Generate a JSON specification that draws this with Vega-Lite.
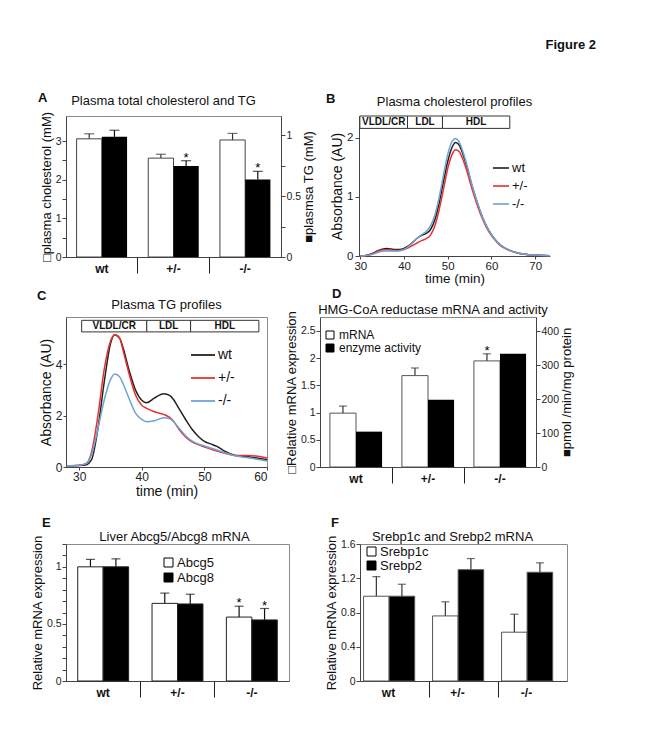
{
  "$schema": "https://vega.github.io/schema/vega-lite/v6.json",
  "background": "white",
  "padding": {"left": 30, "top": 38, "right": 5, "bottom": 5},
  "config": {
    "font": "Liberation Sans",
    "view": {"stroke": "#8a8a8a"},
    "axis": {"labelFont": "Liberation Sans", "labelFontSize": 11, "labelColor": "#222", "titleFont": "Liberation Sans", "titleFontSize": 13, "titleFontWeight": "normal", "titleColor": "#111", "domainColor": "#444", "tickColor": "#444", "tickSize": 4, "labelPadding": 1, "titlePadding": 2, "grid": false},
    "axisQuantitative": {"labelFontSize": 10.5},
    "title": {"font": "Liberation Sans", "fontSize": 13, "fontWeight": "normal", "color": "#111"},
    "legend": {"labelFont": "Liberation Sans", "labelColor": "#111"}
  },
  "title": {"text": "Figure 2", "anchor": "end", "fontWeight": "bold", "fontSize": 13, "offset": 40, "dx": 22},
  "spacing": 18,
  "align": "none",
  "resolve": {"scale": {"color": "independent", "fill": "independent", "xOffset": "independent", "x": "independent", "y": "independent"}, "legend": {"color": "independent", "fill": "independent"}},
  "vconcat": [
    {
      "spacing": 2,
      "align": "none",
      "resolve": {"scale": {"color": "independent", "fill": "independent", "xOffset": "independent", "x": "independent", "y": "independent"}, "legend": {"color": "independent", "fill": "independent"}},
      "vconcat": [
        {
          "spacing": 9,
          "align": "none",
          "resolve": {"scale": {"color": "independent", "fill": "independent", "xOffset": "independent", "x": "independent", "y": "independent"}, "legend": {"color": "independent", "fill": "independent"}},
          "hconcat": [
            {
              "title": {"text": "A", "anchor": "start", "frame": "group", "fontWeight": "bold", "fontSize": 13, "offset": -10, "dx": -28},
              "resolve": {"scale": {"xOffset": "independent", "x": "independent", "y": "independent"}},
              "hconcat": [
                {
                  "width": 215, "height": 141,
                  "title": {"text": "Plasma total cholesterol and TG", "offset": 3, "dx": -10},
                  "data": {"values": [
                    {"g": "wt", "s": "chol", "v": 3.06, "e": 3.19, "star": ""},
                    {"g": "+/-", "s": "chol", "v": 2.56, "e": 2.66, "star": ""},
                    {"g": "-/-", "s": "chol", "v": 3.03, "e": 3.2, "star": ""},
                    {"g": "wt", "s": "tg", "v": 0.986, "e": 1.04, "star": ""},
                    {"g": "+/-", "s": "tg", "v": 0.747, "e": 0.79, "star": "*"},
                    {"g": "-/-", "s": "tg", "v": 0.635, "e": 0.703, "star": "*"}
                  ]},
                  "encoding": {
                    "x": {"field": "g", "type": "nominal", "sort": ["wt", "+/-", "-/-"], "scale": {"paddingInner": 0, "paddingOuter": 0},
                      "axis": {"title": null, "labelAngle": 0, "labelFontWeight": "bold", "labelFontSize": 12, "labelColor": "#111", "bandPosition": 1, "tickSize": 16, "labelPadding": -10, "tickColor": "#222", "tickOpacity": {"condition": {"test": "datum.value === '-/-'", "value": 0}, "value": 1}}},
                    "xOffset": {"field": "s", "type": "nominal", "sort": ["chol", "tg"], "scale": {"paddingInner": 0, "paddingOuter": 0.42}}
                  },
                  "layer": [
                    {
                      "transform": [{"filter": "datum.s === 'chol'"}],
                      "layer": [
                        {"mark": {"type": "rule", "color": "#333", "strokeWidth": 1.2},
                          "encoding": {"y": {"field": "v", "type": "quantitative", "scale": {"domain": [0, 3.651], "nice": false}, "axis": {"title": "□plasma cholesterol (mM)", "format": "~g", "values": [0, 0.5, 1, 1.5, 2, 2.5, 3], "labelExpr": "datum.value % 1 === 0 ? datum.label : ''"}}, "y2": {"field": "e"}}},
                        {"mark": {"type": "bar", "fill": "white", "stroke": "#444", "strokeWidth": 1},
                          "encoding": {"y": {"field": "v", "type": "quantitative", "scale": {"domain": [0, 3.651], "nice": false}, "axis": {"title": "□plasma cholesterol (mM)", "format": "~g", "values": [0, 0.5, 1, 1.5, 2, 2.5, 3], "labelExpr": "datum.value % 1 === 0 ? datum.label : ''"}}}},
                        {"mark": {"type": "tick", "color": "#333", "size": 10, "thickness": 1.2},
                          "encoding": {"y": {"field": "e", "type": "quantitative", "scale": {"domain": [0, 3.651], "nice": false}, "axis": {"title": "□plasma cholesterol (mM)", "format": "~g", "values": [0, 0.5, 1, 1.5, 2, 2.5, 3], "labelExpr": "datum.value % 1 === 0 ? datum.label : ''"}}}}
                      ]
                    },
                    {
                      "transform": [{"filter": "datum.s === 'tg'"}],
                      "layer": [
                        {"mark": {"type": "rule", "color": "#111", "strokeWidth": 1.2},
                          "encoding": {"y": {"field": "v", "type": "quantitative", "scale": {"domain": [0, 1.157], "nice": false}, "axis": {"orient": "right", "title": "■plasmsa TG (mM)", "titleAngle": 270, "titleBaseline": "top", "format": "~g", "values": [0, 0.25, 0.5, 0.75, 1], "labelExpr": "datum.value === 0.25 || datum.value === 0.75 ? '' : datum.label"}}, "y2": {"field": "e"}}},
                        {"mark": {"type": "bar", "fill": "black"},
                          "encoding": {"y": {"field": "v", "type": "quantitative", "scale": {"domain": [0, 1.157], "nice": false}, "axis": {"orient": "right", "title": "■plasmsa TG (mM)", "titleAngle": 270, "titleBaseline": "top", "format": "~g", "values": [0, 0.25, 0.5, 0.75, 1], "labelExpr": "datum.value === 0.25 || datum.value === 0.75 ? '' : datum.label"}}}},
                        {"mark": {"type": "tick", "color": "#111", "size": 10, "thickness": 1.2},
                          "encoding": {"y": {"field": "e", "type": "quantitative", "scale": {"domain": [0, 1.157], "nice": false}, "axis": {"orient": "right", "title": "■plasmsa TG (mM)", "titleAngle": 270, "titleBaseline": "top", "format": "~g", "values": [0, 0.25, 0.5, 0.75, 1], "labelExpr": "datum.value === 0.25 || datum.value === 0.75 ? '' : datum.label"}}}},
                        {"mark": {"type": "text", "fontSize": 13, "baseline": "alphabetic", "dy": 1},
                          "encoding": {"y": {"field": "e", "type": "quantitative", "scale": {"domain": [0, 1.157], "nice": false}, "axis": {"orient": "right", "title": "■plasmsa TG (mM)", "titleAngle": 270, "titleBaseline": "top", "format": "~g", "values": [0, 0.25, 0.5, 0.75, 1], "labelExpr": "datum.value === 0.25 || datum.value === 0.75 ? '' : datum.label"}}, "text": {"field": "star"}}}
                      ]
                    }
                  ],
                  "resolve": {"scale": {"y": "independent"}}
                }
              ]
            },
            {
              "title": {"text": "B", "anchor": "start", "frame": "group", "fontWeight": "bold", "fontSize": 13, "offset": -10, "dx": -33},
              "resolve": {"scale": {"color": "independent", "x": "independent", "y": "independent"}, "legend": {"color": "independent"}},
              "hconcat": [
                {
                  "width": 191, "height": 140,
                  "view": {"stroke": null},
                  "title": {"text": "Plasma cholesterol profiles", "offset": 7},
                  "layer": [
                    {
                      "data": {"values": [
                        {"t":30,"a":0,"k":"wt"},{"t":31,"a":0.005,"k":"wt"},{"t":32,"a":0.02,"k":"wt"},{"t":33,"a":0.05,"k":"wt"},{"t":34,"a":0.09,"k":"wt"},{"t":35,"a":0.115,"k":"wt"},{"t":36,"a":0.125,"k":"wt"},{"t":37,"a":0.12,"k":"wt"},{"t":38,"a":0.11,"k":"wt"},{"t":39,"a":0.11,"k":"wt"},{"t":40,"a":0.13,"k":"wt"},{"t":41,"a":0.17,"k":"wt"},{"t":42,"a":0.23,"k":"wt"},{"t":43,"a":0.3,"k":"wt"},{"t":44,"a":0.35,"k":"wt"},{"t":45,"a":0.38,"k":"wt"},{"t":46,"a":0.44,"k":"wt"},{"t":47,"a":0.6,"k":"wt"},{"t":48,"a":0.88,"k":"wt"},{"t":49,"a":1.25,"k":"wt"},{"t":50,"a":1.6,"k":"wt"},{"t":51,"a":1.84,"k":"wt"},{"t":51.8,"a":1.92,"k":"wt"},{"t":52.6,"a":1.88,"k":"wt"},{"t":53.5,"a":1.72,"k":"wt"},{"t":54.5,"a":1.48,"k":"wt"},{"t":55.5,"a":1.2,"k":"wt"},{"t":56.5,"a":0.96,"k":"wt"},{"t":57.5,"a":0.74,"k":"wt"},{"t":58.5,"a":0.56,"k":"wt"},{"t":59.5,"a":0.42,"k":"wt"},{"t":60.5,"a":0.31,"k":"wt"},{"t":62,"a":0.19,"k":"wt"},{"t":64,"a":0.1,"k":"wt"},{"t":66,"a":0.05,"k":"wt"},{"t":69,"a":0.02,"k":"wt"},{"t":73.4,"a":0.005,"k":"wt"},
                        {"t":30,"a":0,"k":"+/-"},{"t":31,"a":0.005,"k":"+/-"},{"t":32,"a":0.02,"k":"+/-"},{"t":33,"a":0.045,"k":"+/-"},{"t":34,"a":0.08,"k":"+/-"},{"t":35,"a":0.1,"k":"+/-"},{"t":36,"a":0.105,"k":"+/-"},{"t":37,"a":0.1,"k":"+/-"},{"t":38,"a":0.095,"k":"+/-"},{"t":39,"a":0.095,"k":"+/-"},{"t":40,"a":0.11,"k":"+/-"},{"t":41,"a":0.14,"k":"+/-"},{"t":42,"a":0.18,"k":"+/-"},{"t":43,"a":0.22,"k":"+/-"},{"t":44,"a":0.26,"k":"+/-"},{"t":45,"a":0.29,"k":"+/-"},{"t":46,"a":0.35,"k":"+/-"},{"t":47,"a":0.5,"k":"+/-"},{"t":48,"a":0.77,"k":"+/-"},{"t":49,"a":1.12,"k":"+/-"},{"t":50,"a":1.48,"k":"+/-"},{"t":51,"a":1.72,"k":"+/-"},{"t":51.8,"a":1.8,"k":"+/-"},{"t":52.6,"a":1.77,"k":"+/-"},{"t":53.5,"a":1.63,"k":"+/-"},{"t":54.5,"a":1.41,"k":"+/-"},{"t":55.5,"a":1.15,"k":"+/-"},{"t":56.5,"a":0.92,"k":"+/-"},{"t":57.5,"a":0.71,"k":"+/-"},{"t":58.5,"a":0.54,"k":"+/-"},{"t":59.5,"a":0.4,"k":"+/-"},{"t":60.5,"a":0.3,"k":"+/-"},{"t":62,"a":0.18,"k":"+/-"},{"t":64,"a":0.1,"k":"+/-"},{"t":66,"a":0.05,"k":"+/-"},{"t":69,"a":0.02,"k":"+/-"},{"t":73.4,"a":0.005,"k":"+/-"},
                        {"t":30,"a":0,"k":"-/-"},{"t":31,"a":0.005,"k":"-/-"},{"t":32,"a":0.015,"k":"-/-"},{"t":33,"a":0.035,"k":"-/-"},{"t":34,"a":0.06,"k":"-/-"},{"t":35,"a":0.08,"k":"-/-"},{"t":36,"a":0.085,"k":"-/-"},{"t":37,"a":0.085,"k":"-/-"},{"t":38,"a":0.085,"k":"-/-"},{"t":39,"a":0.09,"k":"-/-"},{"t":40,"a":0.11,"k":"-/-"},{"t":41,"a":0.16,"k":"-/-"},{"t":42,"a":0.23,"k":"-/-"},{"t":43,"a":0.3,"k":"-/-"},{"t":44,"a":0.36,"k":"-/-"},{"t":45,"a":0.41,"k":"-/-"},{"t":46,"a":0.5,"k":"-/-"},{"t":47,"a":0.68,"k":"-/-"},{"t":48,"a":0.98,"k":"-/-"},{"t":49,"a":1.36,"k":"-/-"},{"t":50,"a":1.72,"k":"-/-"},{"t":51,"a":1.94,"k":"-/-"},{"t":51.8,"a":1.99,"k":"-/-"},{"t":52.6,"a":1.93,"k":"-/-"},{"t":53.5,"a":1.76,"k":"-/-"},{"t":54.5,"a":1.51,"k":"-/-"},{"t":55.5,"a":1.22,"k":"-/-"},{"t":56.5,"a":0.97,"k":"-/-"},{"t":57.5,"a":0.75,"k":"-/-"},{"t":58.5,"a":0.56,"k":"-/-"},{"t":59.5,"a":0.42,"k":"-/-"},{"t":60.5,"a":0.31,"k":"-/-"},{"t":62,"a":0.19,"k":"-/-"},{"t":64,"a":0.1,"k":"-/-"},{"t":66,"a":0.05,"k":"-/-"},{"t":69,"a":0.02,"k":"-/-"},{"t":73.4,"a":0.005,"k":"-/-"}
                      ]},
                      "mark": {"type": "line", "interpolate": "monotone", "strokeWidth": 1.5},
                      "encoding": {
                        "x": {"field": "t", "type": "quantitative", "scale": {"domain": [29.7, 73.4], "nice": false, "zero": false}, "axis": {"title": "time (min)", "titleFontSize": 13.5, "labelFontSize": 11.5, "values": [30, 40, 50, 60, 70], "tickSize": 3, "labelPadding": 1, "titlePadding": 0}},
                        "y": {"field": "a", "type": "quantitative", "scale": {"domain": [0, 2.37], "nice": false}, "axis": {"title": "Absorbance (AU)", "titleFontSize": 14, "labelFontSize": 11.5, "labelPadding": 2, "titlePadding": 2, "format": "~g", "values": [0, 0.5, 1, 1.5, 2], "labelExpr": "datum.value % 1 === 0 ? datum.label : ''"}},
                        "color": {"field": "k", "type": "nominal", "sort": ["wt", "+/-", "-/-"], "scale": {"domain": ["wt", "+/-", "-/-"], "range": ["#222222", "#e8312f", "#6ea3d6"]},
                          "legend": {"title": null, "orient": "none", "legendX": 133, "legendY": 43, "symbolType": "stroke", "symbolSize": 256, "symbolStrokeWidth": 1.6, "labelFontSize": 13, "rowPadding": 2, "labelOffset": 2}}
                      }
                    },
                    {
                      "data": {"values": [{"r": "VLDL/CR", "t0": 29.9, "t1": 40.8}, {"r": "LDL", "t0": 40.8, "t1": 48.8}, {"r": "HDL", "t0": 48.8, "t1": 64.2}]},
                      "mark": {"type": "rect", "fill": "white", "stroke": "#333", "strokeWidth": 1},
                      "encoding": {"x": {"field": "t0", "type": "quantitative"}, "x2": {"field": "t1"}, "y": {"datum": 2.16}, "y2": {"datum": 2.37}}
                    },
                    {
                      "data": {"values": [{"r": "VLDL/CR", "t0": 29.9, "t1": 40.8}, {"r": "LDL", "t0": 40.8, "t1": 48.8}, {"r": "HDL", "t0": 48.8, "t1": 64.2}]},
                      "transform": [{"calculate": "(datum.t0 + datum.t1) / 2", "as": "tm"}],
                      "mark": {"type": "text", "fontWeight": "bold", "fontSize": 10, "color": "#111"},
                      "encoding": {"x": {"field": "tm", "type": "quantitative"}, "y": {"datum": 2.265}, "text": {"field": "r"}}
                    }
                  ]
                }
              ]
            }
          ]
        },
        {
          "spacing": 13,
          "align": "none",
          "resolve": {"scale": {"color": "independent", "fill": "independent", "xOffset": "independent", "x": "independent", "y": "independent"}, "legend": {"color": "independent", "fill": "independent"}},
          "hconcat": [
            {
              "title": {"text": "C", "anchor": "start", "frame": "group", "fontWeight": "bold", "fontSize": 13, "offset": -4, "dx": -29},
              "resolve": {"scale": {"color": "independent", "x": "independent", "y": "independent"}, "legend": {"color": "independent"}},
              "hconcat": [
                {
                  "width": 201, "height": 150,
                  "title": {"text": "Plasma TG profiles", "offset": 5},
                  "layer": [
                    {
                      "data": {"values": [
                        {"t":28,"a":0.05,"k":"wt"},{"t":30,"a":0.06,"k":"wt"},{"t":31,"a":0.08,"k":"wt"},{"t":32,"a":0.3,"k":"wt"},{"t":33,"a":1.5,"k":"wt"},{"t":34,"a":3.3,"k":"wt"},{"t":35,"a":4.8,"k":"wt"},{"t":35.7,"a":5.15,"k":"wt"},{"t":36.5,"a":5.0,"k":"wt"},{"t":37,"a":4.65,"k":"wt"},{"t":38,"a":3.75,"k":"wt"},{"t":39,"a":3.0,"k":"wt"},{"t":40,"a":2.6,"k":"wt"},{"t":40.8,"a":2.5,"k":"wt"},{"t":42,"a":2.68,"k":"wt"},{"t":43.5,"a":2.85,"k":"wt"},{"t":44.5,"a":2.78,"k":"wt"},{"t":45,"a":2.65,"k":"wt"},{"t":46,"a":2.25,"k":"wt"},{"t":47,"a":1.85,"k":"wt"},{"t":48,"a":1.48,"k":"wt"},{"t":49,"a":1.2,"k":"wt"},{"t":50,"a":1.0,"k":"wt"},{"t":51,"a":0.9,"k":"wt"},{"t":52,"a":0.8,"k":"wt"},{"t":53,"a":0.65,"k":"wt"},{"t":55,"a":0.45,"k":"wt"},{"t":57,"a":0.4,"k":"wt"},{"t":60,"a":0.28,"k":"wt"},
                        {"t":28,"a":0.05,"k":"+/-"},{"t":30,"a":0.07,"k":"+/-"},{"t":31,"a":0.12,"k":"+/-"},{"t":32,"a":0.6,"k":"+/-"},{"t":33,"a":2.0,"k":"+/-"},{"t":34,"a":3.8,"k":"+/-"},{"t":35,"a":4.9,"k":"+/-"},{"t":35.7,"a":5.15,"k":"+/-"},{"t":36.5,"a":5.0,"k":"+/-"},{"t":37,"a":4.55,"k":"+/-"},{"t":38,"a":3.6,"k":"+/-"},{"t":39,"a":2.8,"k":"+/-"},{"t":40,"a":2.4,"k":"+/-"},{"t":40.8,"a":2.28,"k":"+/-"},{"t":42,"a":2.15,"k":"+/-"},{"t":43.5,"a":2.05,"k":"+/-"},{"t":44.5,"a":1.92,"k":"+/-"},{"t":45,"a":1.8,"k":"+/-"},{"t":46,"a":1.45,"k":"+/-"},{"t":47,"a":1.17,"k":"+/-"},{"t":48,"a":0.98,"k":"+/-"},{"t":49,"a":0.87,"k":"+/-"},{"t":50,"a":0.78,"k":"+/-"},{"t":51,"a":0.7,"k":"+/-"},{"t":52,"a":0.62,"k":"+/-"},{"t":53,"a":0.55,"k":"+/-"},{"t":55,"a":0.45,"k":"+/-"},{"t":57,"a":0.45,"k":"+/-"},{"t":60,"a":0.35,"k":"+/-"},
                        {"t":28,"a":0.05,"k":"-/-"},{"t":30,"a":0.07,"k":"-/-"},{"t":31,"a":0.12,"k":"-/-"},{"t":32,"a":0.5,"k":"-/-"},{"t":33,"a":1.5,"k":"-/-"},{"t":34,"a":2.6,"k":"-/-"},{"t":35,"a":3.4,"k":"-/-"},{"t":35.7,"a":3.62,"k":"-/-"},{"t":36.5,"a":3.5,"k":"-/-"},{"t":37,"a":3.25,"k":"-/-"},{"t":38,"a":2.65,"k":"-/-"},{"t":39,"a":2.1,"k":"-/-"},{"t":40,"a":1.85,"k":"-/-"},{"t":40.8,"a":1.76,"k":"-/-"},{"t":42,"a":1.8,"k":"-/-"},{"t":43.5,"a":1.92,"k":"-/-"},{"t":44.5,"a":1.88,"k":"-/-"},{"t":45,"a":1.78,"k":"-/-"},{"t":46,"a":1.5,"k":"-/-"},{"t":47,"a":1.22,"k":"-/-"},{"t":48,"a":1.02,"k":"-/-"},{"t":49,"a":0.9,"k":"-/-"},{"t":50,"a":0.82,"k":"-/-"},{"t":51,"a":0.74,"k":"-/-"},{"t":52,"a":0.66,"k":"-/-"},{"t":53,"a":0.58,"k":"-/-"},{"t":55,"a":0.43,"k":"-/-"},{"t":57,"a":0.36,"k":"-/-"},{"t":60,"a":0.23,"k":"-/-"}
                      ]},
                      "mark": {"type": "line", "interpolate": "monotone", "strokeWidth": 1.5},
                      "encoding": {
                        "x": {"field": "t", "type": "quantitative", "scale": {"domain": [27.9, 60], "nice": false, "zero": false}, "axis": {"title": "time (min)", "titleFontSize": 14, "labelFontSize": 12, "values": [30, 40, 50, 60], "tickSize": 3, "labelPadding": 1, "titlePadding": 2}},
                        "y": {"field": "a", "type": "quantitative", "scale": {"domain": [0, 5.84], "nice": false}, "axis": {"title": "Absorbance (AU)", "titleFontSize": 14, "labelFontSize": 12, "tickSize": 3, "values": [0, 1, 2, 3, 4, 5]}},
                        "color": {"field": "k", "type": "nominal", "sort": ["wt", "+/-", "-/-"], "scale": {"domain": ["wt", "+/-", "-/-"], "range": ["#222222", "#e8312f", "#6ea3d6"]},
                          "legend": {"title": null, "orient": "none", "legendX": 124, "legendY": 25, "symbolType": "stroke", "symbolSize": 576, "symbolStrokeWidth": 1.8, "labelFontSize": 14, "rowPadding": 3, "labelOffset": 2}}
                      }
                    },
                    {
                      "data": {"values": [{"r": "VLDL/CR", "t0": 30.4, "t1": 40.8}, {"r": "LDL", "t0": 40.8, "t1": 47.8}, {"r": "HDL", "t0": 47.8, "t1": 58.7}]},
                      "mark": {"type": "rect", "fill": "white", "stroke": "#333", "strokeWidth": 1},
                      "encoding": {"x": {"field": "t0", "type": "quantitative"}, "x2": {"field": "t1"}, "y": {"datum": 5.26}, "y2": {"datum": 5.71}}
                    },
                    {
                      "data": {"values": [{"r": "VLDL/CR", "t0": 30.4, "t1": 40.8}, {"r": "LDL", "t0": 40.8, "t1": 47.8}, {"r": "HDL", "t0": 47.8, "t1": 58.7}]},
                      "transform": [{"calculate": "(datum.t0 + datum.t1) / 2", "as": "tm"}],
                      "mark": {"type": "text", "fontWeight": "bold", "fontSize": 10, "color": "#111"},
                      "encoding": {"x": {"field": "tm", "type": "quantitative"}, "y": {"datum": 5.485}, "text": {"field": "r"}}
                    }
                  ]
                }
              ]
            },
            {
              "title": {"text": "D", "anchor": "start", "frame": "group", "fontWeight": "bold", "fontSize": 13, "offset": 3, "dx": 12},
              "resolve": {"scale": {"fill": "independent", "xOffset": "independent", "x": "independent", "y": "independent"}, "legend": {"fill": "independent"}},
              "hconcat": [
                {
                  "width": 216, "height": 150,
                  "title": {"text": "HMG-CoA reductase mRNA and activity", "offset": -7, "dx": 5},
                  "data": {"values": [
                    {"g": "wt", "s": "mRNA", "v": 0.99, "e": 1.12, "star": ""},
                    {"g": "+/-", "s": "mRNA", "v": 1.68, "e": 1.82, "star": ""},
                    {"g": "-/-", "s": "mRNA", "v": 1.95, "e": 2.08, "star": "*"},
                    {"g": "wt", "s": "enzyme activity", "v": 104},
                    {"g": "+/-", "s": "enzyme activity", "v": 198},
                    {"g": "-/-", "s": "enzyme activity", "v": 333}
                  ]},
                  "encoding": {
                    "x": {"field": "g", "type": "nominal", "sort": ["wt", "+/-", "-/-"], "scale": {"paddingInner": 0, "paddingOuter": 0},
                      "axis": {"title": null, "labelAngle": 0, "labelFontWeight": "bold", "labelFontSize": 12, "labelColor": "#111", "bandPosition": 1, "tickSize": 16, "labelPadding": -10, "tickColor": "#222", "tickOpacity": {"condition": {"test": "datum.value === '-/-'", "value": 0}, "value": 1}}},
                    "xOffset": {"field": "s", "type": "nominal", "sort": ["mRNA", "enzyme activity"], "scale": {"paddingInner": 0, "paddingOuter": 0.38}}
                  },
                  "layer": [
                    {
                      "transform": [{"filter": "datum.s === 'mRNA'"}],
                      "layer": [
                        {"mark": {"type": "rule", "color": "#333", "strokeWidth": 1.2},
                          "encoding": {"y": {"field": "v", "type": "quantitative", "scale": {"domain": [0, 2.757], "nice": false}, "axis": {"title": "□Relative mRNA expression", "format": "~g", "values": [0, 0.5, 1, 1.5, 2, 2.5]}}, "y2": {"field": "e"}}},
                        {"mark": {"type": "bar", "stroke": "#555", "strokeWidth": 1},
                          "encoding": {"y": {"field": "v", "type": "quantitative", "scale": {"domain": [0, 2.757], "nice": false}, "axis": {"title": "□Relative mRNA expression", "format": "~g", "values": [0, 0.5, 1, 1.5, 2, 2.5]}},
                            "fill": {"field": "s", "type": "nominal", "scale": {"domain": ["mRNA", "enzyme activity"], "range": ["white", "black"]},
                              "legend": {"title": null, "orient": "none", "legendX": 4, "legendY": 12, "symbolType": "square", "symbolSize": 64, "symbolStrokeColor": "#000", "symbolStrokeWidth": 1, "labelFontSize": 12, "rowPadding": 1, "labelOffset": 3}}}},
                        {"mark": {"type": "tick", "color": "#333", "size": 8, "thickness": 1.2},
                          "encoding": {"y": {"field": "e", "type": "quantitative", "scale": {"domain": [0, 2.757], "nice": false}, "axis": {"title": "□Relative mRNA expression", "format": "~g", "values": [0, 0.5, 1, 1.5, 2, 2.5]}}}},
                        {"mark": {"type": "text", "fontSize": 13, "baseline": "alphabetic", "dy": 1},
                          "encoding": {"y": {"field": "e", "type": "quantitative", "scale": {"domain": [0, 2.757], "nice": false}, "axis": {"title": "□Relative mRNA expression", "format": "~g", "values": [0, 0.5, 1, 1.5, 2, 2.5]}}, "text": {"field": "star"}}}
                      ]
                    },
                    {
                      "transform": [{"filter": "datum.s === 'enzyme activity'"}],
                      "mark": {"type": "bar"},
                      "encoding": {
                        "y": {"field": "v", "type": "quantitative", "scale": {"domain": [0, 441.2], "nice": false}, "axis": {"orient": "right", "title": "■pmol /min/mg protein", "titleAngle": 270, "titleBaseline": "top", "format": "d", "values": [0, 100, 200, 300, 400]}},
                        "fill": {"field": "s", "type": "nominal", "scale": {"domain": ["mRNA", "enzyme activity"], "range": ["white", "black"]}}
                      }
                    }
                  ],
                  "resolve": {"scale": {"y": "independent"}}
                }
              ]
            }
          ]
        }
      ]
    },
    {
      "spacing": 34,
      "align": "none",
      "resolve": {"scale": {"color": "independent", "fill": "independent", "xOffset": "independent", "x": "independent", "y": "independent"}, "legend": {"color": "independent", "fill": "independent"}},
      "hconcat": [
        {
          "title": {"text": "E", "anchor": "start", "frame": "group", "fontWeight": "bold", "fontSize": 13, "offset": 0, "dx": -24},
          "resolve": {"scale": {"fill": "independent", "xOffset": "independent", "x": "independent", "y": "independent"}, "legend": {"fill": "independent"}},
          "hconcat": [
            {
              "width": 223, "height": 137,
              "title": {"text": "Liver Abcg5/Abcg8 mRNA", "offset": -9, "dx": -3},
              "data": {"values": [
                {"g": "wt", "s": "Abcg5", "v": 1.0, "e": 1.065, "star": ""},
                {"g": "+/-", "s": "Abcg5", "v": 0.68, "e": 0.77, "star": ""},
                {"g": "-/-", "s": "Abcg5", "v": 0.56, "e": 0.655, "star": "*"},
                {"g": "wt", "s": "Abcg8", "v": 1.0, "e": 1.07, "star": ""},
                {"g": "+/-", "s": "Abcg8", "v": 0.675, "e": 0.76, "star": ""},
                {"g": "-/-", "s": "Abcg8", "v": 0.535, "e": 0.635, "star": "*"}
              ]},
              "encoding": {
                "x": {"field": "g", "type": "nominal", "sort": ["wt", "+/-", "-/-"], "scale": {"paddingInner": 0, "paddingOuter": 0},
                  "axis": {"title": null, "labelAngle": 0, "labelFontWeight": "bold", "labelFontSize": 12, "labelColor": "#111", "bandPosition": 1, "tickSize": 16, "labelPadding": -10, "tickColor": "#222", "tickOpacity": {"condition": {"test": "datum.value === '-/-'", "value": 0}, "value": 1}}},
                "xOffset": {"field": "s", "type": "nominal", "sort": ["Abcg5", "Abcg8"], "scale": {"paddingInner": 0, "paddingOuter": 0.46}},
                "y": {"field": "v", "type": "quantitative", "scale": {"domain": [0, 1.2], "nice": false}, "axis": {"title": "Relative mRNA expression", "format": "~g", "values": [0, 0.1, 0.2, 0.3, 0.4, 0.5, 0.6, 0.7, 0.8, 0.9, 1, 1.1, 1.2], "labelExpr": "datum.value === 0 || datum.value === 0.5 || datum.value === 1 ? datum.label : ''"}}
              },
              "layer": [
                {"mark": {"type": "rule", "color": "#111", "strokeWidth": 1.2}, "encoding": {"y2": {"field": "e"}}},
                {"mark": {"type": "bar", "stroke": "#222", "strokeWidth": 1},
                  "encoding": {"fill": {"field": "s", "type": "nominal", "scale": {"domain": ["Abcg5", "Abcg8"], "range": ["white", "black"]},
                    "legend": {"title": null, "orient": "none", "legendX": 96, "legendY": 12, "symbolType": "square", "symbolSize": 81, "symbolStrokeColor": "#000", "symbolStrokeWidth": 1, "labelFontSize": 13, "rowPadding": 1, "labelOffset": 2}}}},
                {"mark": {"type": "tick", "color": "#111", "size": 9, "thickness": 1.2},
                  "encoding": {"y": {"field": "e", "type": "quantitative", "scale": {"domain": [0, 1.2], "nice": false}, "axis": {"title": "Relative mRNA expression", "format": "~g", "values": [0, 0.1, 0.2, 0.3, 0.4, 0.5, 0.6, 0.7, 0.8, 0.9, 1, 1.1, 1.2], "labelExpr": "datum.value === 0 || datum.value === 0.5 || datum.value === 1 ? datum.label : ''"}}}},
                {"mark": {"type": "text", "fontSize": 13, "baseline": "alphabetic", "dy": 1},
                  "encoding": {"y": {"field": "e", "type": "quantitative", "scale": {"domain": [0, 1.2], "nice": false}, "axis": {"title": "Relative mRNA expression", "format": "~g", "values": [0, 0.1, 0.2, 0.3, 0.4, 0.5, 0.6, 0.7, 0.8, 0.9, 1, 1.1, 1.2], "labelExpr": "datum.value === 0 || datum.value === 0.5 || datum.value === 1 ? datum.label : ''"}}, "text": {"field": "star"}}}
              ]
            }
          ]
        },
        {
          "title": {"text": "F", "anchor": "start", "frame": "group", "fontWeight": "bold", "fontSize": 13, "offset": 0, "dx": -29},
          "resolve": {"scale": {"fill": "independent", "xOffset": "independent", "x": "independent", "y": "independent"}, "legend": {"fill": "independent"}},
          "hconcat": [
            {
              "width": 207, "height": 137,
              "title": {"text": "Srebp1c and Srebp2 mRNA", "offset": -9, "dx": -11},
              "data": {"values": [
                {"g": "wt", "s": "Srebp1c", "v": 0.99, "e": 1.22},
                {"g": "+/-", "s": "Srebp1c", "v": 0.76, "e": 0.925},
                {"g": "-/-", "s": "Srebp1c", "v": 0.57, "e": 0.78},
                {"g": "wt", "s": "Srebp2", "v": 0.99, "e": 1.13},
                {"g": "+/-", "s": "Srebp2", "v": 1.3, "e": 1.43},
                {"g": "-/-", "s": "Srebp2", "v": 1.27, "e": 1.38}
              ]},
              "encoding": {
                "x": {"field": "g", "type": "nominal", "sort": ["wt", "+/-", "-/-"], "scale": {"paddingInner": 0, "paddingOuter": 0},
                  "axis": {"title": null, "labelAngle": 0, "labelFontWeight": "bold", "labelFontSize": 12, "labelColor": "#111", "bandPosition": 1, "tickSize": 16, "labelPadding": -10, "labelOffset": -6, "tickColor": "#222", "tickOpacity": {"condition": {"test": "datum.value === '-/-'", "value": 0}, "value": 1}}},
                "xOffset": {"field": "s", "type": "nominal", "sort": ["Srebp1c", "Srebp2"], "scale": {"paddingInner": 0, "paddingOuter": 0.35, "align": 0.2}},
                "y": {"field": "v", "type": "quantitative", "scale": {"domain": [0, 1.6], "nice": false}, "axis": {"title": "Relative mRNA expression", "format": "~g", "values": [0, 0.4, 0.8, 1.2, 1.6]}}
              },
              "layer": [
                {"mark": {"type": "rule", "color": "#333", "strokeWidth": 1.2}, "encoding": {"y2": {"field": "e"}}},
                {"mark": {"type": "bar", "stroke": "#555", "strokeWidth": 1},
                  "encoding": {"fill": {"field": "s", "type": "nominal", "scale": {"domain": ["Srebp1c", "Srebp2"], "range": ["white", "black"]},
                    "legend": {"title": null, "orient": "none", "legendX": 5, "legendY": 1, "symbolType": "square", "symbolSize": 81, "symbolStrokeColor": "#000", "symbolStrokeWidth": 1, "labelFontSize": 13, "rowPadding": 0, "labelOffset": 2}}}},
                {"mark": {"type": "tick", "color": "#333", "size": 8, "thickness": 1.2},
                  "encoding": {"y": {"field": "e", "type": "quantitative", "scale": {"domain": [0, 1.6], "nice": false}, "axis": {"title": "Relative mRNA expression", "format": "~g", "values": [0, 0.4, 0.8, 1.2, 1.6]}}}}
              ]
            }
          ]
        }
      ]
    }
  ]
}
